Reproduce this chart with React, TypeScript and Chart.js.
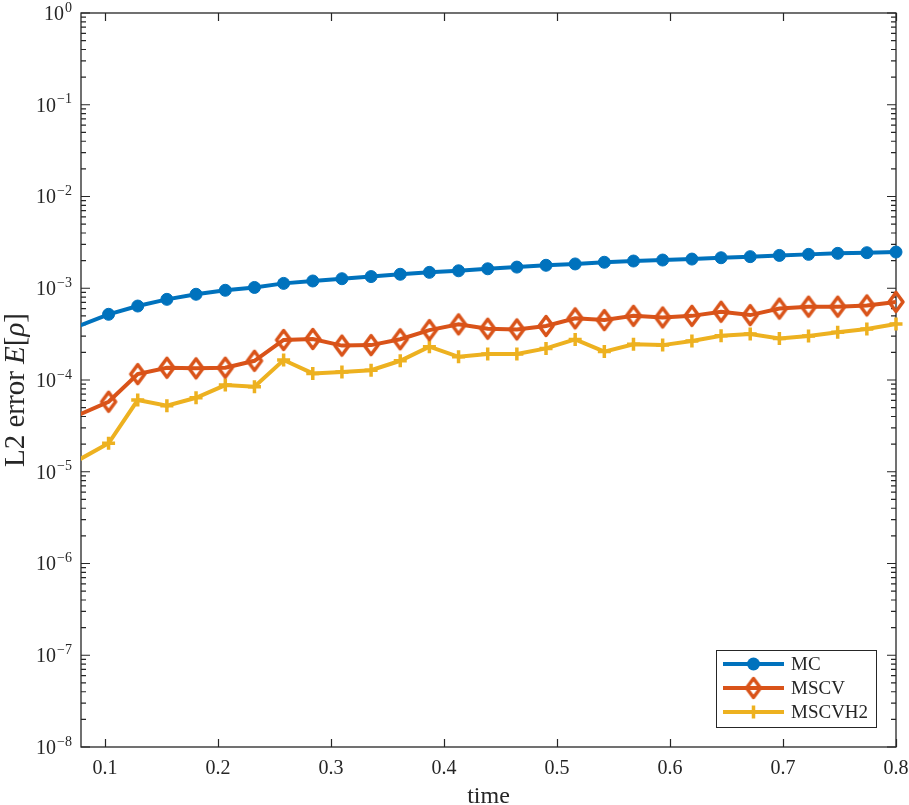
import React, { useEffect, useRef } from 'react';
import { Chart, registerables } from 'chart.js';
Chart.register(...registerables);

const TIMES = [0.0774, 0.1032, 0.1290, 0.1548, 0.1806, 0.2065, 0.2323, 0.2581, 0.2839, 0.3097,
  0.3355, 0.3613, 0.3871, 0.4129, 0.4387, 0.4645, 0.4903, 0.5161, 0.5419, 0.5677,
  0.5935, 0.6194, 0.6452, 0.6710, 0.6968, 0.7226, 0.7484, 0.7742, 0.8000];

const MC = [3.9e-4, 5.2e-4, 6.4e-4, 7.57e-4, 8.6e-4, 9.5e-4, 1.02e-3, 1.13e-3, 1.2e-3, 1.27e-3,
  1.34e-3, 1.42e-3, 1.49e-3, 1.55e-3, 1.63e-3, 1.70e-3, 1.78e-3, 1.84e-3, 1.92e-3, 1.98e-3,
  2.03e-3, 2.08e-3, 2.15e-3, 2.21e-3, 2.28e-3, 2.34e-3, 2.40e-3, 2.44e-3, 2.48e-3];

const MSCV = [4.2e-5, 5.8e-5, 1.16e-4, 1.36e-4, 1.34e-4, 1.36e-4, 1.62e-4, 2.73e-4, 2.8e-4, 2.37e-4,
  2.4e-4, 2.78e-4, 3.5e-4, 4.04e-4, 3.62e-4, 3.56e-4, 3.88e-4, 4.7e-4, 4.5e-4, 5.0e-4,
  4.8e-4, 5.0e-4, 5.55e-4, 5.1e-4, 6.0e-4, 6.3e-4, 6.3e-4, 6.5e-4, 7.1e-4];

const MSCVH2 = [1.36e-5, 2.04e-5, 6.05e-5, 5.25e-5, 6.4e-5, 8.8e-5, 8.46e-5, 1.65e-4, 1.18e-4, 1.22e-4,
  1.28e-4, 1.62e-4, 2.31e-4, 1.79e-4, 1.92e-4, 1.92e-4, 2.21e-4, 2.77e-4, 2.04e-4, 2.45e-4,
  2.4e-4, 2.66e-4, 3.04e-4, 3.17e-4, 2.84e-4, 3.02e-4, 3.31e-4, 3.6e-4, 4.07e-4];

const SERIES_NAMES = ['MC', 'MSCV', 'MSCVH2'];
const X_TICKS = [0.1, 0.2, 0.3, 0.4, 0.5, 0.6, 0.7, 0.8];
const X_TICK_LABELS = ['0.1', '0.2', '0.3', '0.4', '0.5', '0.6', '0.7', '0.8'];
const Y_EXPONENTS = [-8, -7, -6, -5, -4, -3, -2, -1, 0];
const X_MIN = 0.0788;
const X_MAX = 0.8;

const BLUE = '#0072BD';
const ORANGE = '#D95319';
const YELLOW = '#EDB120';
const AXIS = '#262626';
const FONT = '"Liberation Serif", "DejaVu Serif", serif';

function makeDiamond(color: string) {
  const c = document.createElement('canvas');
  c.width = 22; c.height = 28;
  const g = c.getContext('2d')!;
  g.strokeStyle = color;
  g.lineWidth = 3.5;
  g.lineJoin = 'round';
  g.beginPath();
  g.moveTo(11, 4.5); g.lineTo(18, 14); g.lineTo(11, 23.5); g.lineTo(4, 14); g.closePath();
  g.stroke();
  return c;
}

function drawMarker(ctx: CanvasRenderingContext2D, kind: number, x: number, y: number, color: string, diamond: HTMLCanvasElement) {
  ctx.save();
  if (kind === 0) {
    ctx.fillStyle = color;
    ctx.beginPath(); ctx.arc(x, y, 6.5, 0, Math.PI * 2); ctx.fill();
  } else if (kind === 1) {
    ctx.drawImage(diamond, x - diamond.width / 2, y - diamond.height / 2);
  } else {
    ctx.strokeStyle = color; ctx.lineWidth = 3.5;
    ctx.beginPath(); ctx.moveTo(x - 6, y); ctx.lineTo(x + 6, y); ctx.moveTo(x, y - 6.5); ctx.lineTo(x, y + 6.5); ctx.stroke();
  }
  ctx.restore();
}

export default function App() {
  const ref = useRef<HTMLCanvasElement | null>(null);
  useEffect(() => {
    if (!ref.current) return;
    const diamond = makeDiamond(ORANGE);
    const hideOutside = (r: number) => (c: any) => (c.parsed && c.parsed.x < X_MIN ? 0 : r);
    const mk = (arr: number[]) => TIMES.map((t, i) => ({ x: t, y: arr[i] }));
    const colors = [BLUE, ORANGE, YELLOW];
    const clipArea = { left: 0, top: 20, right: 20, bottom: 20 } as any;

    const axesPlugin = {
      id: 'matlabAxes',
      beforeDatasetsDraw(chart: any) {
        const { ctx, chartArea, scales } = chart;
        const { left, right, top, bottom } = chartArea;
        const xs = scales.x, ys = scales.y;
        ctx.save();
        ctx.strokeStyle = AXIS;
        ctx.lineWidth = 1.2;
        ctx.beginPath();
        X_TICKS.forEach((v) => {
          const px = Math.round(xs.getPixelForValue(v)) + 0.5;
          ctx.moveTo(px, bottom); ctx.lineTo(px, bottom - 8);
          ctx.moveTo(px, top); ctx.lineTo(px, top + 8);
        });
        Y_EXPONENTS.forEach((e) => {
          const py = ys.getPixelForValue(Math.pow(10, e));
          ctx.moveTo(left, py); ctx.lineTo(left + 9, py);
          ctx.moveTo(right, py); ctx.lineTo(right - 9, py);
          if (e < 0) {
            for (let m = 2; m <= 9; m++) {
              const q = ys.getPixelForValue(m * Math.pow(10, e));
              ctx.moveTo(left, q); ctx.lineTo(left + 5, q);
              ctx.moveTo(right, q); ctx.lineTo(right - 5, q);
            }
          }
        });
        ctx.stroke();
        ctx.lineWidth = 1.3;
        ctx.strokeRect(left, top, right - left, bottom - top);
        ctx.restore();
      },
      afterDraw(chart: any) {
        const { ctx, chartArea, scales } = chart;
        const { left, right, top, bottom } = chartArea;
        const xs = scales.x, ys = scales.y;
        ctx.save();
        ctx.fillStyle = AXIS;
        // x tick labels
        ctx.font = `20px ${FONT}`;
        ctx.textAlign = 'center';
        ctx.textBaseline = 'alphabetic';
        X_TICKS.forEach((v, i) => {
          ctx.fillText(X_TICK_LABELS[i], xs.getPixelForValue(v), bottom + 27);
        });
        // y tick labels 10^e
        Y_EXPONENTS.forEach((e) => {
          const py = ys.getPixelForValue(Math.pow(10, e));
          const exp = e < 0 ? '\u2212' + String(-e) : String(e);
          ctx.font = `14px ${FONT}`;
          ctx.textAlign = 'right';
          const ew = ctx.measureText(exp).width;
          const rx = left - 9;
          ctx.fillText(exp, rx, py - 1.5);
          ctx.font = `20px ${FONT}`;
          ctx.fillText('10', rx - ew - 1, py + 6.8);
        });
        // x title
        ctx.font = `24px ${FONT}`;
        ctx.textAlign = 'center';
        ctx.fillText('time', (left + right) / 2, 803);
        // y title
        ctx.save();
        ctx.translate(23.5, 390);
        ctx.rotate(-Math.PI / 2);
        const parts: [string, boolean][] = [['L2 error ', false], ['E', true], ['[', false], ['\u03C1', true], [']', false]];
        let total = 0;
        parts.forEach(([s, it]) => { ctx.font = `${it ? 'italic ' : ''}29px ${FONT}`; total += ctx.measureText(s).width; });
        let cx = -total / 2;
        ctx.textAlign = 'left';
        parts.forEach(([s, it]) => {
          ctx.font = `${it ? 'italic ' : ''}29px ${FONT}`;
          ctx.fillText(s, cx, 0);
          cx += ctx.measureText(s).width;
        });
        ctx.restore();
        // legend
        const lx = 716, ly = 650, lw = 160, lh = 77;
        ctx.fillStyle = '#ffffff';
        ctx.fillRect(lx, ly, lw, lh);
        ctx.strokeStyle = AXIS;
        ctx.lineWidth = 1;
        ctx.strokeRect(lx + 0.5, ly + 0.5, lw, lh);
        const rows = [664, 688, 712];
        SERIES_NAMES.forEach((name, i) => {
          const yy = rows[i];
          ctx.strokeStyle = colors[i];
          ctx.lineWidth = 4;
          ctx.beginPath(); ctx.moveTo(723, yy); ctx.lineTo(784, yy); ctx.stroke();
          drawMarker(ctx, i, 753.5, yy, colors[i], diamond);
          ctx.fillStyle = AXIS;
          ctx.font = `19px ${FONT}`;
          ctx.textAlign = 'left';
          ctx.textBaseline = 'middle';
          ctx.fillText(name, 791, yy + 1);
        });
        ctx.restore();
      },
    };

    const chart = new Chart(ref.current, {
      type: 'line',
      data: {
        datasets: [
          {
            label: SERIES_NAMES[0], data: mk(MC), borderColor: BLUE, backgroundColor: BLUE,
            borderWidth: 4, pointStyle: 'circle', pointRadius: hideOutside(6), pointBorderWidth: 1,
            pointBackgroundColor: BLUE, pointBorderColor: BLUE, clip: clipArea,
          },
          {
            label: SERIES_NAMES[1], data: mk(MSCV), borderColor: ORANGE, backgroundColor: ORANGE,
            borderWidth: 4, pointStyle: diamond as any, pointRadius: hideOutside(8),
            clip: clipArea,
          },
          {
            label: SERIES_NAMES[2], data: mk(MSCVH2), borderColor: YELLOW, backgroundColor: YELLOW,
            borderWidth: 4, pointStyle: 'cross', pointRadius: hideOutside(6.5), pointBorderWidth: 3.5,
            pointBorderColor: YELLOW, clip: clipArea,
          },
        ],
      },
      options: {
        animation: false,
        responsive: false,
        devicePixelRatio: 1,
        layout: { padding: { left: 81, top: 13, right: 13, bottom: 58 } },
        plugins: { legend: { display: false }, tooltip: { enabled: false } },
        elements: { line: { tension: 0 } },
        scales: {
          x: { type: 'linear', min: X_MIN, max: X_MAX, display: false },
          y: { type: 'logarithmic', min: 1e-8, max: 1, display: false },
        },
      },
      plugins: [axesPlugin],
    });
    return () => chart.destroy();
  }, []);

  return (
    <div style={{ position: 'absolute', left: 0, top: 0, width: 909, height: 805, background: '#fff' }}>
      <canvas ref={ref} width={909} height={805} />
    </div>
  );
}
